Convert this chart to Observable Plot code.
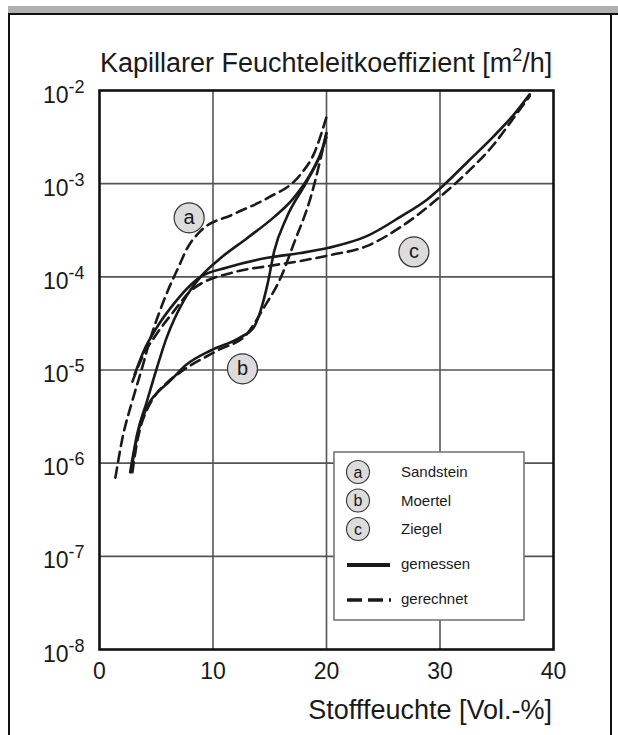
<!DOCTYPE html>
<html>
<head>
<meta charset="utf-8">
<script src="https://cdn.jsdelivr.net/npm/d3@7"></script>
<script src="https://cdn.jsdelivr.net/npm/@observablehq/plot@0.6"></script>
<style>
  html, body { margin: 0; padding: 0; background: #fff; }
  #wrap { position: relative; width: 618px; height: 735px; overflow: hidden; font-family: "Liberation Sans", Arial, sans-serif; }
  #wrap > svg { position: absolute; left: 0; top: 0; }
</style>
</head>
<body>
<div id="wrap"></div>
<script>
// ---- data (x: Stofffeuchte Vol.-%, y: Feuchteleitkoeffizient m²/h) ----
const sandsteinGemessenX = [2.7, 3.3, 4.2, 5.0, 5.9, 7.4, 8.9, 10.7, 13.0, 15.4, 17.1, 18.9, 19.6, 20.0];
const sandsteinGemessenY = [8e-7, 2e-6, 4.7e-6, 1e-5, 2.2e-5, 5.5e-5, 1e-4, 1.6e-4, 2.6e-4, 4.4e-4, 7e-4, 1.5e-3, 2.3e-3, 3.5e-3];
const sandsteinGerechnetX = [1.4, 2.0, 2.9, 3.7, 4.5, 6.0, 7.0, 7.7, 8.9, 11.8, 14.8, 17.7, 18.9, 20.0];
const sandsteinGerechnetY = [7e-7, 1.8e-6, 4.7e-6, 1e-5, 2.2e-5, 7e-5, 1.3e-4, 2e-4, 3.1e-4, 4.7e-4, 7e-4, 1.25e-3, 2.1e-3, 5.2e-3];
const moertelGemessenX = [2.8, 3.1, 3.5, 4.0, 4.5, 5.2, 6.0, 7.7, 9.8, 12.4, 13.6, 14.2, 14.8, 15.4, 16.5, 18.3, 19.5, 20.0];
const moertelGemessenY = [8e-7, 1.41e-6, 2.4e-6, 3.55e-6, 4.68e-6, 5.9e-6, 7.2e-6, 1.15e-5, 1.62e-5, 2.24e-5, 2.88e-5, 4.37e-5, 8.3e-5, 1.9e-4, 4.37e-4, 1.07e-3, 2.09e-3, 3.16e-3];
const moertelGerechnetX = [2.9, 3.2, 3.6, 4.1, 4.8, 6.0, 7.4, 10.4, 13.0, 14.5, 16.0, 17.1, 18.6, 19.5, 20.0];
const moertelGerechnetY = [8e-7, 1.41e-6, 2.4e-6, 3.55e-6, 5.1e-6, 7.4e-6, 1e-5, 1.62e-5, 2.45e-5, 4.7e-5, 1e-4, 2.24e-4, 7.1e-4, 1.9e-3, 3.55e-3];
const ziegelGemessenX = [3.1, 3.9, 5.0, 6.3, 8.9, 11.25, 14.8, 17.7, 20.2, 23.6, 26.5, 28.9, 30.1, 32.4, 34.7, 36.5, 37.9];
const ziegelGemessenY = [9e-6, 1.6e-5, 2.8e-5, 4.7e-5, 1e-4, 1.26e-4, 1.6e-4, 1.8e-4, 2.05e-4, 2.75e-4, 4.4e-4, 6.8e-4, 9.1e-4, 1.7e-3, 3.2e-3, 5.5e-3, 9.1e-3];
const ziegelGerechnetX = [2.9, 3.8, 5.0, 6.5, 8.0, 11.8, 14.8, 17.7, 20.2, 23.6, 26.5, 30.1, 32.4, 34.7, 36.5, 37.9];
const ziegelGerechnetY = [7.5e-6, 1.4e-5, 2.4e-5, 4.2e-5, 7e-5, 1.12e-4, 1.3e-4, 1.48e-4, 1.7e-4, 2.15e-4, 3.4e-4, 7.4e-4, 1.32e-3, 2.6e-3, 5.1e-3, 8.7e-3];

const labelLetters = ["a", "b", "c"];
const labelX = [7.9, 12.6, 27.7];
const labelY = [4.3e-4, 1.03e-5, 1.85e-4];

const materialNames = ["Sandstein", "Moertel", "Ziegel"];
const kindNames = ["gemessen", "gerechnet"];
const xTicks = [0, 10, 20, 30, 40];
const xGrid = [10, 20, 30];
const yExponents = [-2, -3, -4, -5, -6, -7, -8];
const titleText = "Kapillarer Feuchteleitkoeffizient [m";
const titleSup = "2";
const titleEnd = "/h]";
const xTitle = "Stofffeuchte [Vol.-%]";

// ---- build table ----
function rows(mat, kind, xs, ys) { return xs.map((x, i) => ({mat, kind, x, y: ys[i]})); }
const table = [
  ...rows("Sandstein", "gemessen", sandsteinGemessenX, sandsteinGemessenY),
  ...rows("Sandstein", "gerechnet", sandsteinGerechnetX, sandsteinGerechnetY),
  ...rows("Moertel", "gemessen", moertelGemessenX, moertelGemessenY),
  ...rows("Moertel", "gerechnet", moertelGerechnetX, moertelGerechnetY),
  ...rows("Ziegel", "gemessen", ziegelGemessenX, ziegelGemessenY),
  ...rows("Ziegel", "gerechnet", ziegelGerechnetX, ziegelGerechnetY)
];
const labels = labelLetters.map((t, i) => ({t, x: labelX[i], y: labelY[i]}));
const yTicks = yExponents.map(e => Math.pow(10, e));

const ink = "#1a1a1a";
const font = "Liberation Sans, Arial, sans-serif";

const chart = Plot.plot({
  width: 618, height: 735,
  marginLeft: 99, marginRight: 65, marginTop: 90, marginBottom: 86,
  style: {fontFamily: font, background: "transparent", overflow: "visible"},
  x: {domain: [0, 40], axis: null},
  y: {type: "log", domain: [1e-8, 1e-2], axis: null},
  marks: [
    Plot.ruleX(xGrid, {stroke: "#555", strokeWidth: 1.6}),
    Plot.ruleY(yTicks.slice(1, -1), {stroke: "#555", strokeWidth: 1.6}),
    Plot.line(table.filter(d => d.kind === "gemessen"), {x: "x", y: "y", z: "mat", stroke: ink, strokeWidth: 2.6, curve: "monotone-x"}),
    Plot.line(table.filter(d => d.kind === "gerechnet"), {x: "x", y: "y", z: "mat", stroke: ink, strokeWidth: 2.6, strokeDasharray: "10,6", curve: "monotone-x"}),
    Plot.frame({stroke: "#111", strokeWidth: 2.6}),
    Plot.dot(labels, {x: "x", y: "y", r: 15, fill: "#dcdcdc", stroke: "#333", strokeWidth: 1.2}),
    Plot.text(labels, {x: "x", y: "y", text: "t", fontSize: 20, fill: ink}),
    Plot.text(xTicks, {x: d => d, frameAnchor: "bottom", text: d => String(d), fontSize: 23, lineAnchor: "bottom", dy: 29, fill: ink}),
    Plot.text(yTicks, {y: d => d, frameAnchor: "left", text: () => "10", fontSize: 23, textAnchor: "end", lineAnchor: "bottom", dx: -31, dy: 12, fill: ink}),
    Plot.text(yExponents, {y: d => Math.pow(10, d), frameAnchor: "left", text: d => String(d), fontSize: 18, textAnchor: "start", lineAnchor: "bottom", dx: -31, dy: 2, fill: ink})
  ]
});
const wrap = document.getElementById("wrap");
wrap.appendChild(chart);

// ---- decorations overlay: page frame, titles, legend ----
const svg = d3.select(wrap).append("svg").attr("width", 618).attr("height", 735)
  .style("font-family", font);
svg.append("rect").attr("x", 8).attr("y", 6).attr("width", 610).attr("height", 7).attr("fill", "#b0b0b0");
svg.append("rect").attr("x", 8).attr("y", 13).attr("width", 610).attr("height", 2).attr("fill", "#111");
svg.append("rect").attr("x", 8).attr("y", 13).attr("width", 2).attr("height", 722).attr("fill", "#111");
svg.append("rect").attr("x", 610).attr("y", 13).attr("width", 2).attr("height", 722).attr("fill", "#111");

const t = svg.append("text").attr("x", 100).attr("y", 72).attr("font-size", 27).attr("fill", ink);
t.append("tspan").text(titleText);
t.append("tspan").attr("dy", -11).attr("font-size", 18).text(titleSup);
t.append("tspan").attr("dy", 11).text(titleEnd);

svg.append("text").attr("x", 552).attr("y", 719).attr("text-anchor", "end").attr("font-size", 27).attr("fill", ink).text(xTitle);

// legend
const lg = svg.append("g");
lg.append("rect").attr("x", 334).attr("y", 452).attr("width", 190).attr("height", 168)
  .attr("fill", "#fff").attr("stroke", "#777").attr("stroke-width", 1.6);
labelLetters.forEach((l, i) => {
  const cy = 472 + i * 28.5;
  lg.append("circle").attr("cx", 358).attr("cy", cy).attr("r", 11.5).attr("fill", "#dcdcdc").attr("stroke", "#333").attr("stroke-width", 1.1);
  lg.append("text").attr("x", 358).attr("y", cy + 5.5).attr("text-anchor", "middle").attr("font-size", 16).attr("fill", ink).text(l);
  lg.append("text").attr("x", 401).attr("y", cy + 5).attr("font-size", 15).attr("fill", ink).text(materialNames[i]);
});
lg.append("line").attr("x1", 347).attr("x2", 390).attr("y1", 565).attr("y2", 565).attr("stroke", ink).attr("stroke-width", 4);
lg.append("text").attr("x", 401).attr("y", 569).attr("font-size", 15).attr("fill", ink).text(kindNames[0]);
lg.append("line").attr("x1", 347).attr("x2", 391).attr("y1", 600).attr("y2", 600).attr("stroke", ink).attr("stroke-width", 3.5).attr("stroke-dasharray", "15,6");
lg.append("text").attr("x", 401).attr("y", 604).attr("font-size", 15).attr("fill", ink).text(kindNames[1]);
</script>
</body>
</html>
